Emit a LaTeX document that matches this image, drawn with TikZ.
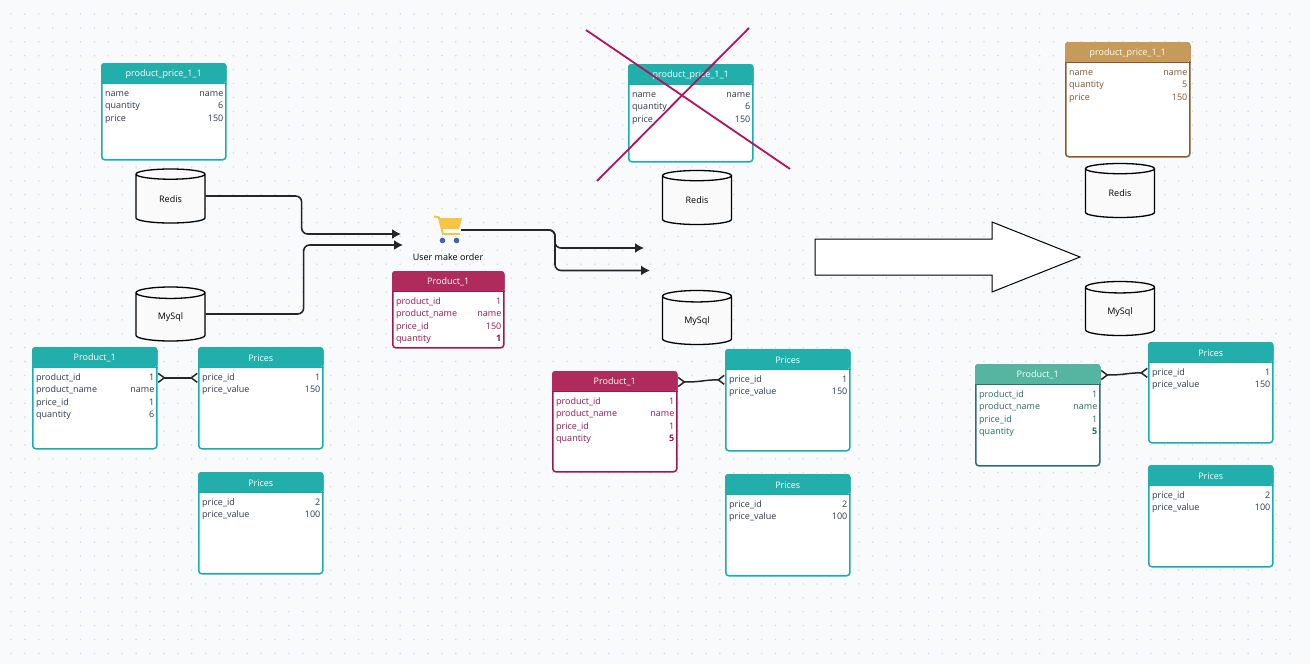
\documentclass[tikz,border=0pt]{standalone}
\usepackage{fontspec}
\setmainfont{Open Sans}
\usetikzlibrary{shapes.geometric,arrows.meta}

\definecolor{pagebg}{HTML}{F9FAFC}
\definecolor{griddot}{HTML}{D8DCE4}
\definecolor{lineteal}{HTML}{17AEAE}
\definecolor{headteal}{HTML}{22AFAB}
\definecolor{textteal}{HTML}{2E3A50}
\definecolor{linered}{HTML}{9E1750}
\definecolor{headred}{HTML}{AF2B5C}
\definecolor{textred}{HTML}{96174F}
\definecolor{linebrown}{HTML}{8A5A2B}
\definecolor{headbrown}{HTML}{C59A5B}
\definecolor{textbrown}{HTML}{7F5430}
\definecolor{linegreen}{HTML}{2F6F6C}
\definecolor{headgreen}{HTML}{55B5A0}
\definecolor{textgreen}{HTML}{2B6B62}
\definecolor{crossred}{HTML}{B3135E}
\definecolor{cartyellow}{HTML}{F6C544}
\definecolor{cartblue}{HTML}{3F66B5}

\tikzset{
  tablebox/.style={draw,fill=white,line width=1.5pt,rounded corners=3pt,anchor=north west,inner sep=0pt},
  titletxt/.style={text=white,font=\fontsize{9}{10}\selectfont,inner sep=0pt},
  rowtxt/.style={font=\fontsize{9}{10}\selectfont,inner sep=0pt},
  store/.style={cylinder,shape border rotate=90,aspect=.45,anchor=shape center,draw,line width=1.3pt,fill=white!98!black,
    minimum width=69pt,minimum height=54pt,inner sep=0pt,font=\fontsize{9}{10}\selectfont},
  flow/.style={draw=black!85,line width=1.6pt,rounded corners=6pt,-{Latex[length=9pt,width=10pt]}},
  crow/.style={draw=black!85,line width=1.5pt,
    {Straight Barb[reversed,length=6pt,width=9pt]}-{Straight Barb[reversed,length=6pt,width=9pt]}},
  crossline/.style={draw=crossred,line width=1.8pt}
}

% name, top left, width, height, palette, title, rows
\newcommand{\dbtable}[7]{
  \node[tablebox,draw=line#5,minimum width={#3pt-1pt},minimum height={#4pt-1pt}] (#1) at (#2) {};
  \fill[head#5,rounded corners=3pt] (#1.north west) -- (#1.north east) -- ([yshift=-20pt]#1.north east) [sharp corners]
    -- ([yshift=-20pt]#1.north west) [rounded corners=3pt] -- cycle;
  \draw[line#5,line width=1pt] ([yshift=-20pt]#1.north west) -- ([yshift=-20pt]#1.north east);
  \node[titletxt] (#1-t) at ([yshift=-11pt]#1.north) {#6};
  \foreach \lab/\val [count=\i] in {#7} {
    \node[rowtxt,text=text#5,anchor=mid west] (#1-\i) at ([xshift=4pt,yshift={-30.5pt-12.5pt*(\i-1)}]#1.north west) {\lab};
    \node[rowtxt,text=text#5,anchor=mid east] (#1-v\i) at ([xshift=-3pt,yshift={-30.5pt-12.5pt*(\i-1)}]#1.north east) {\val};
  }
}

\begin{document}
\begin{tikzpicture}[x=1pt,y=1pt]
  \useasboundingbox (0,0) rectangle (1310,-664);
  \fill[pagebg] (0,0) rectangle (1310,-664);
  \foreach \gx in {0,...,92}
    \foreach \gy in {0,...,46}
      \fill[griddot] ({11+13.9*\gx},{-14-13.9*\gy}) circle (.9);

  % left column
  \dbtable{pricea}{101,-63}{125}{97}{teal}{product\_price\_1\_1}{name/name,quantity/6,price/150}
  \node[store] (redisa) at (170.5,-196) {Redis};
  \node[store] (mysqla) at (170.5,-314) {MySql};
  \dbtable{producta}{32,-347}{125}{102}{teal}{Product\_1}{product\_id/1,product\_name/name,price\_id/1,quantity/6}
  \dbtable{pricesa}{198,-347}{125}{102}{teal}{Prices}{price\_id/1,price\_value/150}
  \dbtable{pricesb}{198,-472}{125}{102}{teal}{Prices}{price\_id/2,price\_value/100}

  % order
  \fill[cartyellow] (438,-218) -- (462,-218) -- (459,-229) -- (442,-229) -- cycle;
  \draw[cartyellow,line width=2pt] (434,-216.5) -- (439,-217.5) -- (443,-234) -- (460,-234);
  \fill[cartblue] (442.5,-240.5) circle (2.8);
  \fill[cartblue] (456.5,-240.5) circle (2.8);
  \coordinate (cart) at (461,-230);
  \node[rowtxt] (order) at (448,-257) {User make order};
  \dbtable{productb}{392,-271}{112}{77}{red}{Product\_1}{product\_id/1,product\_name/name,price\_id/150,quantity/\textbf{1}}

  % middle column
  \dbtable{priceb}{628,-64}{125}{98}{teal}{product\_price\_1\_1}{name/name,quantity/6,price/150}
  \node[store] (redisb) at (697,-197.5) {Redis};
  \node[store] (mysqlb) at (697,-317.5) {MySql};
  \dbtable{productc}{552,-371}{125}{101}{red}{Product\_1}{product\_id/1,product\_name/name,price\_id/1,quantity/\textbf{5}}
  \dbtable{pricesc}{725,-349}{125}{102}{teal}{Prices}{price\_id/1,price\_value/150}
  \dbtable{pricesd}{725,-474}{125}{102}{teal}{Prices}{price\_id/2,price\_value/100}

  % right column
  \dbtable{pricec}{1065,-42}{125}{115}{brown}{product\_price\_1\_1}{name/name,quantity/5,price/150}
  \node[store] (redisc) at (1120,-190.5) {Redis};
  \node[store] (mysqlc) at (1120,-308.5) {MySql};
  \dbtable{productd}{975,-364}{125}{102}{green}{Product\_1}{product\_id/1,product\_name/name,price\_id/1,quantity/\textbf{5}}
  \dbtable{pricese}{1148,-342}{125}{101}{teal}{Prices}{price\_id/1,price\_value/150}
  \dbtable{pricesf}{1148,-465}{125}{102}{teal}{Prices}{price\_id/2,price\_value/100}

  \coordinate (ina) at (401,-234);
  \coordinate (inb) at (403,-245);
  \coordinate (outa) at (644,-248);
  \coordinate (outb) at (650,-270.5);
  \path[flow] (redisa.shape center -| redisa.east) -- ++(96,0) |- (ina);
  \path[flow] (mysqla.shape center -| mysqla.east) -- ++(98,0) |- (inb);
  \path[flow] (cart) -- ++(94,0) |- (outa);
  \path[flow] (cart) -- ++(94,0) |- (outb);

  \path[crow] (producta.east |- producta-1) -- (pricesa.west |- producta-1);
  \path[crow] (productc.east |- productc-t) .. controls +(26,0) and +(-22,0) .. (pricesc.west |- pricesc-1);
  \path[crow] (productd.east |- productd-t) .. controls +(26,0) and +(-22,0) .. (pricese.west |- pricese-1);

  \draw[crossline] (586,-30) -- (790,-169);
  \draw[crossline] (749,-28) -- (597,-181);

  \draw[fill=white,line width=1pt] (815,-239) -- (992,-239) -- (992,-222) -- (1080,-257)
    -- (992,-292) -- (992,-275) -- (815,-275) -- cycle;
\end{tikzpicture}
\end{document}
